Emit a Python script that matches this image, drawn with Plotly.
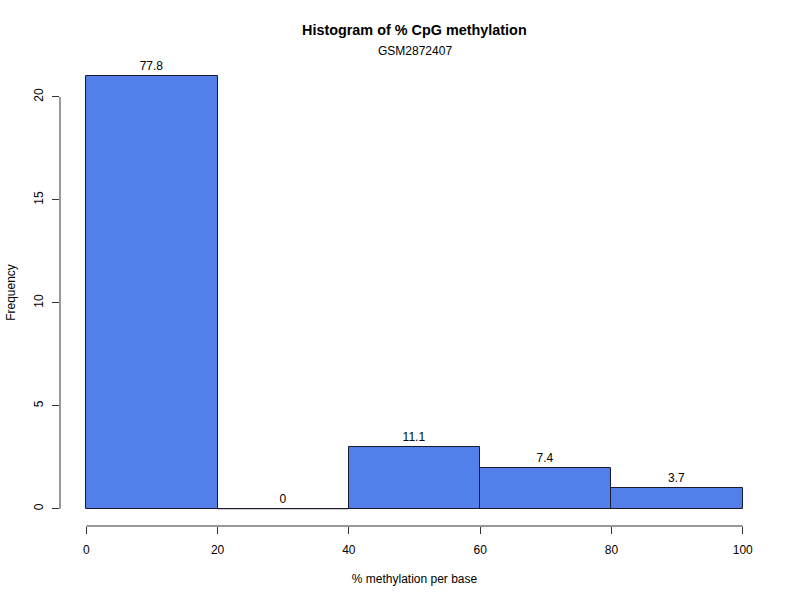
import plotly.graph_objects as go

bin_edges = [0, 20, 40, 60, 80, 100]
counts = [21, 0, 3, 2, 1]
pct_labels = ["77.8", "0", "11.1", "7.4", "3.7"]
x_ticks = [0, 20, 40, 60, 80, 100]
y_ticks = [0, 5, 10, 15, 20]

centers = [(a + b) / 2 for a, b in zip(bin_edges[:-1], bin_edges[1:])]
widths = [b - a for a, b in zip(bin_edges[:-1], bin_edges[1:])]

FONT = "Liberation Sans, Arial, Helvetica, sans-serif"
AX = "#333333"

fig = go.Figure()
fig.add_trace(go.Bar(
    x=centers, y=counts, width=widths,
    marker=dict(color="#527fe8", line=dict(color="#1a1a2e", width=1)),
    text=pct_labels, textposition="outside", cliponaxis=False,
    textfont=dict(family=FONT, size=12, color="black"),
    hoverinfo="skip",
))
# zero-height bin drawn as a line along the base
fig.add_trace(go.Scatter(
    x=[bin_edges[1], bin_edges[2]], y=[counts[1], counts[1]], mode="lines",
    line=dict(color="#1a1a2e", width=1), hoverinfo="skip", showlegend=False,
))

xr = [bin_edges[0] - 0.04 * (bin_edges[-1] - bin_edges[0]),
      bin_edges[-1] + 0.04 * (bin_edges[-1] - bin_edges[0])]
ymax = max(counts)
yr = [-0.04 * ymax, ymax * 1.04]

fig.update_layout(
    width=800, height=600,
    margin=dict(l=60, r=31, t=59, b=74),
    plot_bgcolor="white", paper_bgcolor="white",
    showlegend=False, bargap=0,
    font=dict(family=FONT, size=12, color="black"),
    xaxis=dict(range=xr, showgrid=False, zeroline=False, showline=False, automargin=False,
               tickmode="array", tickvals=x_ticks, ticks="outside", ticklen=7,
               tickcolor=AX, tickwidth=1, ticklabelstandoff=6,
               tickfont=dict(family=FONT, size=12),
               title=dict(text="% methylation per base", standoff=18,
                          font=dict(family=FONT, size=12))),
    yaxis=dict(range=yr, showgrid=False, zeroline=False, showline=False, automargin=False,
               tickmode="array", tickvals=y_ticks, ticks="outside", ticklen=7,
               tickcolor=AX, tickwidth=1, tickangle=-90, ticklabelstandoff=4,
               tickfont=dict(family=FONT, size=12),
               title=dict(text="Frequency", standoff=14,
                          font=dict(family=FONT, size=12))),
    annotations=[
        dict(text="<b>Histogram of % CpG methylation</b>", xref="paper", yref="paper",
             x=0.5, y=1, yshift=19, yanchor="bottom", xanchor="center", showarrow=False,
             font=dict(family=FONT, size=14.4)),
        dict(text="GSM2872407", xref="paper", yref="paper",
             x=0.5, y=1, yanchor="bottom", xanchor="center", showarrow=False,
             yshift=-1, font=dict(family=FONT, size=12)),
    ],
    shapes=[
        dict(type="line", xref="paper", yref="y", x0=0, x1=0, y0=y_ticks[0], y1=y_ticks[-1],
             line=dict(color=AX, width=1)),
        dict(type="line", xref="x", yref="paper", x0=x_ticks[0], x1=x_ticks[-1], y0=0, y1=0,
             line=dict(color=AX, width=1)),
    ],
)

fig.write_html("out.html")
